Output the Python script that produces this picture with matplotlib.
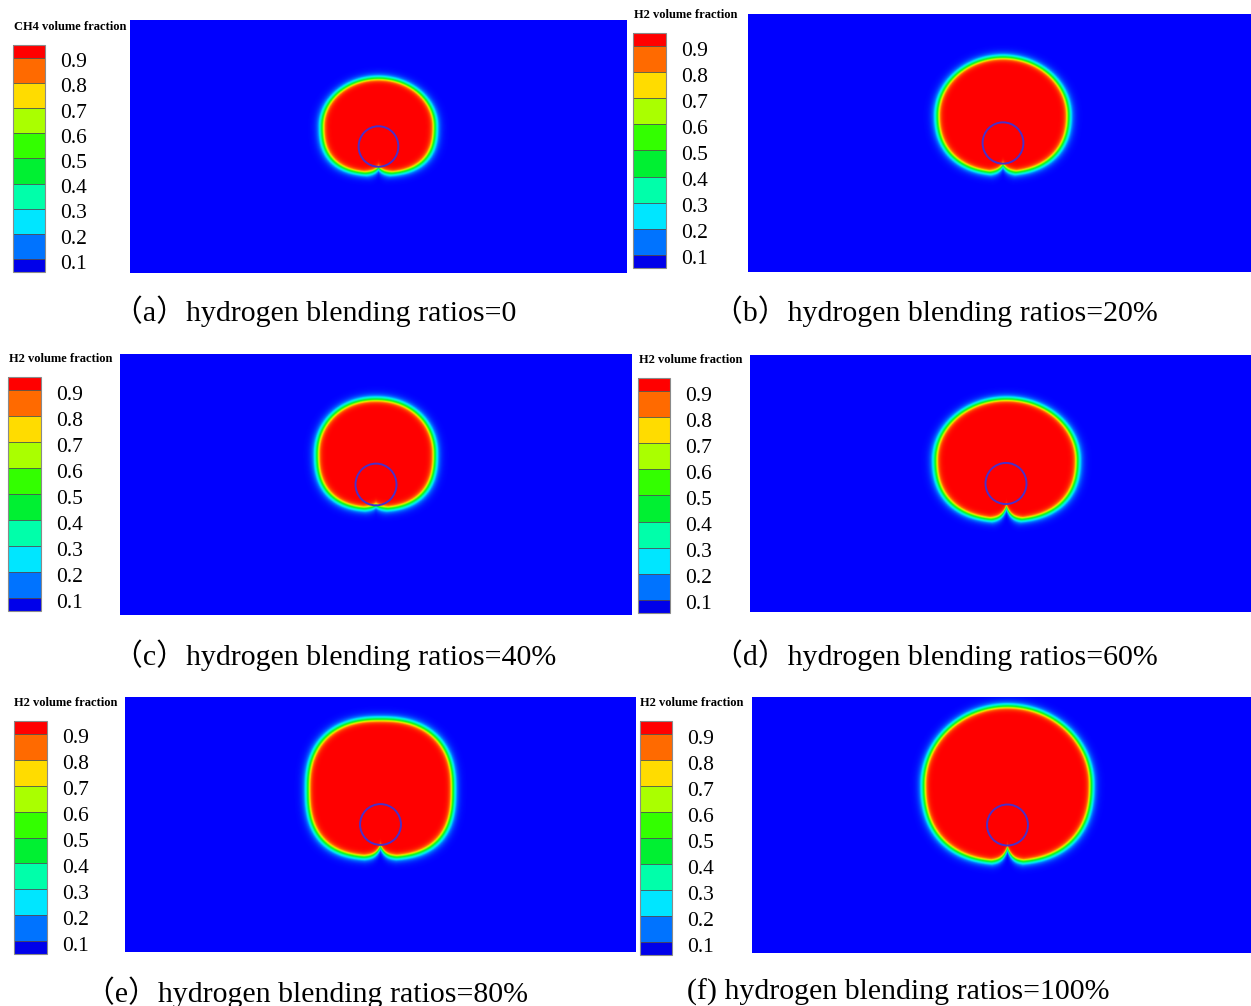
import numpy as np
import matplotlib
matplotlib.use('Agg')
import matplotlib.pyplot as plt
from matplotlib.colors import ListedColormap, LinearSegmentedColormap, BoundaryNorm
from matplotlib.cm import ScalarMappable
from matplotlib.patches import Circle
from matplotlib.transforms import offset_copy

plt.rcParams['font.family'] = ['Liberation Serif', 'Noto Sans CJK SC']

# contour levels, lowest band first
level_colors = ['#0000ea', '#0073ff', '#00e6ff', '#00ffaa', '#00f032',
                '#33ff00', '#aaff00', '#ffdc00', '#ff6a00', '#ff0000']
tick_values = [0.1, 0.2, 0.3, 0.4, 0.5, 0.6, 0.7, 0.8, 0.9]
tick_labels = ['0.1', '0.2', '0.3', '0.4', '0.5', '0.6', '0.7', '0.8', '0.9']

species = ['CH4', 'H2', 'H2', 'H2', 'H2', 'H2']
captions = ['（a）hydrogen blending ratios=0',
            '（b）hydrogen blending ratios=20%',
            '（c）hydrogen blending ratios=40%',
            '（d）hydrogen blending ratios=60%',
            '（e）hydrogen blending ratios=80%',
            '(f) hydrogen blending ratios=100%']

# computational domain 200 x 100, leaking pipe at the centre
hole_x, hole_y, hole_r = 100.0, 50.0, 8.0
# gas cloud outline for each case (0.5 iso-line)
top_y = [76.7, 83.3, 82.4, 82.9, 91.0, 96.5]
lobe_y = [39.1, 38.4, 40.5, 35.8, 36.9, 35.5]
cusp_y = [41.5, 41.5, 42.0, 40.9, 41.2, 41.0]
half_width = [22.7, 25.7, 23.0, 27.7, 28.4, 32.8]
upper_round = [2.0, 2.0, 2.1, 2.0, 2.4, 2.0]
lower_round = [2.6, 2.3, 2.5, 2.4, 2.7, 2.4]

# ---- layout (pixels: left, top, right, bottom) ----
W, H = 1251, 1006
field_box = [(130, 20, 627, 273), (748, 14, 1258, 272), (120, 354, 632, 615),
             (750, 355, 1262, 612), (125, 697, 636, 952), (752, 697, 1263, 953)]
bar_box = [(13, 45, 45, 272), (633, 33, 666, 268), (8, 377, 41, 611),
           (638, 378, 670, 613), (14, 721, 47, 954), (640, 721, 672, 955)]
title_xy = [(14, 27), (634, 15), (9, 359), (639, 360), (14, 703), (640, 703)]
caption_xy = [(113, 311), (713, 311), (113, 655), (713, 655), (85, 992), (687, 992)]


def rect(b):
    l, t, r, bt = b
    return [l / W, 1 - bt / H, (r - l) / W, (bt - t) / H]


field_cmap = LinearSegmentedColormap.from_list(
    'field', list(zip([0, 0.15, 0.25, 0.35, 0.45, 0.55, 0.65, 0.75, 0.85, 1.0],
                      ['#0000ff'] + level_colors[1:])))

bar_cmap = ListedColormap(level_colors[1:-1])
bar_cmap.set_under(level_colors[0])
bar_cmap.set_over(level_colors[-1])
bar_norm = BoundaryNorm(tick_values, bar_cmap.N)

xs = np.linspace(0, 200, 801)
ys = np.linspace(0, 100, 401)
X, Y = np.meshgrid(xs, ys)


def cloud(i):
    # rounded body with a narrow notch under the pipe
    hw = half_width[i]
    b = (top_y[i] - lobe_y[i]) / 2
    yc = lobe_y[i] + b
    n = np.where(Y > yc, upper_round[i], lower_round[i])
    dx = X - hole_x
    rho = (np.abs(dx / hw) ** n + np.abs((Y - yc) / b) ** n) ** (1 / n)
    d_body = (1 - rho) * 0.5 * (hw + b)
    notch = lobe_y[i] + (cusp_y[i] - lobe_y[i]) * np.exp(-np.abs(dx) / 2.0)
    d = np.minimum(d_body, Y - notch)
    s = np.where(d > 0, 0.65, 0.95)
    return 1 / (1 + np.exp(-d / s))


fig = plt.figure(figsize=(W / 100, H / 100), dpi=100)

for i in range(6):
    ax = fig.add_axes(rect(field_box[i]))
    ax.imshow(cloud(i), extent=[0, 200, 0, 100], origin='lower', cmap=field_cmap,
              vmin=0, vmax=1, interpolation='bilinear', aspect='auto')
    ax.add_patch(Circle((hole_x, hole_y), hole_r, fill=False, edgecolor='#4a30c8', lw=1.4))
    ax.set_xlim(0, 200)
    ax.set_ylim(0, 100)
    ax.axis('off')

    cax = fig.add_axes(rect(bar_box[i]))
    cb = fig.colorbar(ScalarMappable(bar_norm, bar_cmap), cax=cax, extend='both',
                      extendrect=True, extendfrac=0.0625, drawedges=True,
                      ticks=tick_values)
    cb.ax.tick_params(length=0, labelright=False)
    cb.outline.set_edgecolor('#8a8a8a')
    cb.outline.set_linewidth(0.8)
    cb.dividers.set_color('#505050')
    cb.dividers.set_linewidth(0.6)
    lab_tr = offset_copy(cax.get_yaxis_transform(), fig=fig, x=15, y=-5, units='dots')
    for v, lab in zip(tick_values, tick_labels):
        cax.text(1, v, lab, transform=lab_tr, ha='left', va='center', fontsize=15.5)

    tx, ty = title_xy[i]
    fig.text(tx / W, 1 - ty / H, species[i] + ' volume fraction', fontsize=9,
             fontweight='bold', ha='left', va='center')
    cx, cy = caption_xy[i]
    fig.text(cx / W, 1 - cy / H, captions[i], fontsize=21.5, ha='left', va='center')

fig.savefig('out.png', dpi=100)
